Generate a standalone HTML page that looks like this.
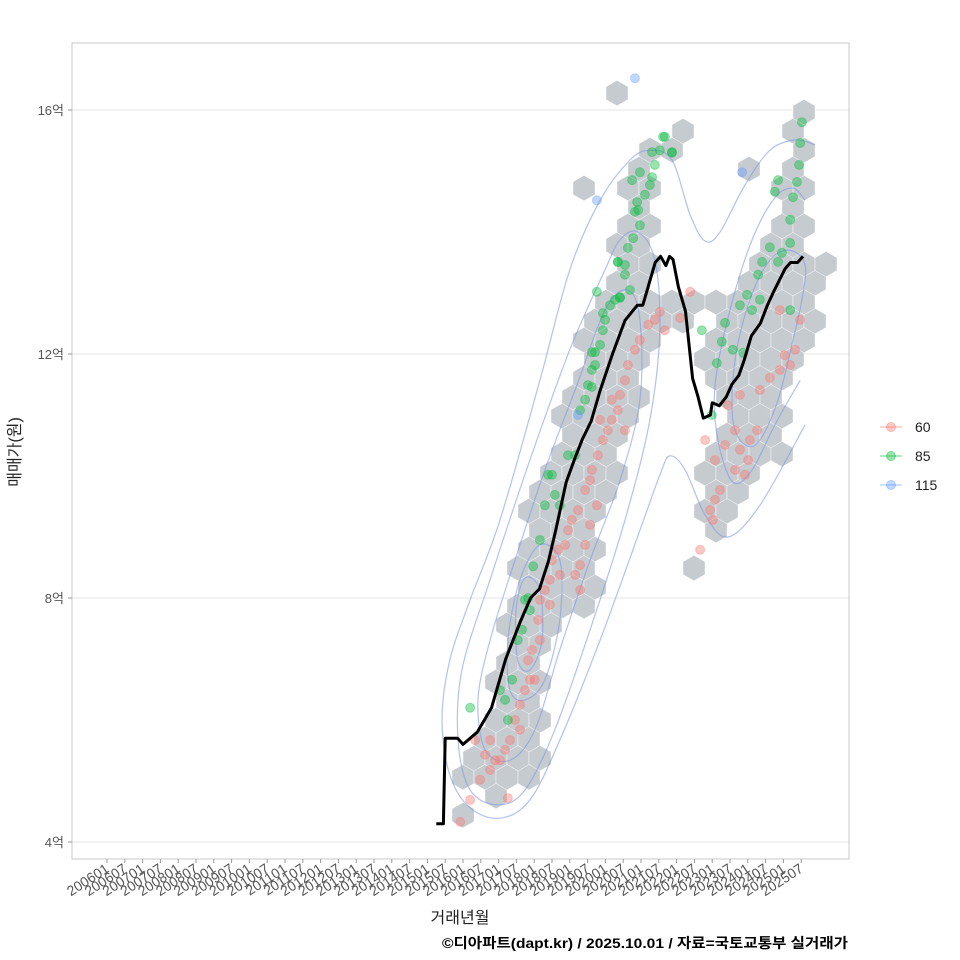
<!DOCTYPE html>
<html><head><meta charset="utf-8">
<style>
html,body{margin:0;padding:0;background:#fff;}
svg{display:block;font-family:"Liberation Sans","Noto Sans CJK KR",sans-serif;}
</style></head>
<body>
<svg id="chart" width="960" height="960" viewBox="0 0 960 960" xmlns="http://www.w3.org/2000/svg">
  <rect x="0" y="0" width="960" height="960" fill="#fff"/>
  <g id="grid"></g>
  <g id="hexes"></g>
  <g id="contours"></g>
  <g id="points"></g>
  <g id="line"></g>
  <rect x="72" y="43" width="777" height="816" fill="none" stroke="#c8c8c8" stroke-width="1"/>
  <g id="yaxis"></g>
  <g id="xaxis"></g>
  <text x="20" y="452" transform="rotate(-90 20 452)" text-anchor="middle" font-size="16" fill="#222">매매가(원)</text>
  <text x="460" y="923" text-anchor="middle" font-size="16" fill="#222">거래년월</text>
  <text x="848" y="948" text-anchor="end" font-size="14" font-weight="bold" fill="#000" textLength="406" lengthAdjust="spacingAndGlyphs">©디아파트(dapt.kr) / 2025.10.01 / 자료=국토교통부 실거래가</text>
  <g id="legend"></g>
</svg>
<script>
// ---- data ----
const yTicks = [4, 8, 12, 16];
const yTickLabels = ["4억", "8억", "12억", "16억"];
const xTickStartYear = 2006;
const xTickCount = 40; // every 6 months 200601..202507
const legendLabels = ["60", "85", "115"];
const legendColors = ["#F8766D", "#00BA38", "#619CFF"];

const lineYears = [2015.25,2015.45,2015.5,2015.85,2016.0,2016.2,2016.4,2016.6,2016.8,2017.0,2017.2,2017.6,2017.9,2018.15,2018.4,2018.6,2018.9,2019.15,2019.35,2019.6,2019.85,2020.2,2020.55,2020.9,2021.05,2021.2,2021.4,2021.55,2021.7,2021.8,2021.9,2022.05,2022.25,2022.45,2022.6,2022.75,2022.95,2023.0,2023.2,2023.4,2023.55,2023.75,2023.9,2024.1,2024.35,2024.55,2024.75,2025.05,2025.2,2025.4,2025.55];
const linePrices = [4.3,4.3,5.7,5.7,5.6,5.7,5.8,6.0,6.2,6.6,7.0,7.6,8.0,8.15,8.6,9.1,9.9,10.3,10.6,10.9,11.4,12.0,12.55,12.8,12.8,13.1,13.5,13.6,13.45,13.6,13.55,13.1,12.7,11.6,11.3,10.95,11.0,11.2,11.15,11.3,11.5,11.65,11.9,12.3,12.5,12.8,13.05,13.4,13.5,13.5,13.6];

const greenYears = [2016.2,2017.04,2017.18,2017.26,2017.38,2017.54,2017.66,2017.74,2017.83,2017.88,2017.97,2018.16,2018.30,2018.39,2018.5,2018.58,2018.72,2018.95,2019.15,2019.29,2019.43,2019.51,2019.62,2019.71,2019.85,2019.93,2019.99,2020.13,2020.27,2020.41,2020.35,2020.55,2020.69,2020.63,2020.78,2020.97,2020.92,2021.11,2021.25,2021.39,2021.53,2021.67,2021.87,2020.75,2020.97,2020.83,2020.55,2022.99,2022.71,2023.36,2023.27,2023.87,2023.98,2024.12,2024.34,2024.29,2024.40,2024.62,2024.85,2024.96,2025.19,2025.19,2025.27,2024.76,2024.85,2025.38,2025.44,2025.47,2025.52,2023.78,2025.19,2023.58,2023.13,2019.76,2020.41,2019.93,2020.35,2019.62,2019.71,2019.62,2020.89,2021.31,2021.62,2021.87,2021.31];
const greenPrices = [6.2,6.49,6.33,6.0,6.66,7.31,7.48,7.97,8.0,7.8,8.52,8.95,9.52,10.02,10.02,9.69,9.52,10.34,10.34,11.08,11.25,11.49,11.74,12.03,12.15,12.39,12.56,12.8,12.89,12.92,13.51,13.46,13.05,13.74,13.9,14.11,14.36,14.61,14.77,15.1,15.34,15.56,15.31,14.85,14.98,14.33,13.3,11.0,12.39,12.51,12.2,12.02,12.97,12.72,12.89,13.3,13.51,13.75,13.51,13.66,13.82,14.2,14.57,14.66,14.85,14.82,15.1,15.46,15.8,12.8,12.72,12.07,11.85,13.02,12.93,12.67,13.51,12.03,11.82,11.46,14.49,14.9,15.56,15.3,15.31];

const redYears = [2015.92,2016.2,2016.48,2016.76,2016.9,2017.18,2017.26,2016.62,2016.34,2017.32,2017.46,2017.6,2017.74,2017.83,2017.94,2018.02,2018.11,2018.16,2018.3,2018.44,2018.5,2018.67,2018.87,2018.95,2019.06,2019.23,2019.29,2019.15,2019.43,2019.57,2019.62,2019.79,2019.93,2020.07,2020.18,2020.35,2020.41,2020.55,2020.63,2020.83,2020.97,2021.2,2021.39,2021.67,2021.53,2022.38,2022.1,2019.76,2019.57,2019.43,2019.29,2018.72,2018.44,2018.16,2017.88,2017.6,2016.76,2017.04,2020.18,2019.85,2020.55,2022.8,2023.08,2023.36,2023.64,2023.78,2024.01,2024.06,2024.26,2023.92,2023.64,2023.22,2023.08,2022.94,2023.02,2022.66,2024.34,2024.62,2024.9,2025.04,2025.19,2025.33,2025.47,2024.9,2023.78,2023.44];
const redPrices = [4.33,4.69,5.02,5.18,5.34,5.51,4.72,5.43,5.67,5.67,6.0,6.25,6.49,6.98,7.15,6.66,7.64,7.97,8.13,8.3,8.62,8.79,8.87,9.11,9.28,9.44,8.13,8.38,9.77,9.93,10.1,10.34,10.59,10.75,10.92,11.08,11.33,11.57,11.82,12.07,12.23,12.48,12.56,12.39,12.69,13.02,12.59,9.52,9.2,8.87,8.54,8.38,7.89,7.31,6.66,5.84,5.67,5.34,11.25,10.92,10.75,10.59,10.26,10.51,10.75,10.43,10.26,10.59,10.75,10.02,10.1,9.77,9.61,9.44,9.28,8.79,11.41,11.61,11.74,11.98,11.82,12.07,12.56,12.72,11.33,11.16];

const blueYears = [2020.83,2019.76,2023.84,2019.23];
const bluePrices = [16.52,14.52,14.98,11.0];

// hexbin rows: row index, covered year range
const hexSegRow = [0,1,2,3,4,5,6,7,8,9,10,11,12,13,14,15,16,17,18,19,20,21,22,23,24,25,26,27,28,29,30,31,32,33,34,35,36,38,
  13,15,16,17,18,19,20,21,22,23,24,25,26,27,28,29,30,31,32,33,34,35,36,37,34,33];
const hexSegStart = [2016.0,2016.9,2016.0,2016.3,2016.6,2016.9,2017.0,2016.9,2017.2,2017.3,2017.3,2017.6,2017.6,2017.7,2017.7,2017.9,2018.1,2018.3,2018.5,2018.8,2019.0,2019.0,2019.1,2019.2,2019.4,2019.5,2019.8,2020.1,2020.1,2020.4,2020.5,2020.6,2020.8,2020.9,2020.8,2021.3,2021.9,2020.63,
  2022.57,2022.9,2022.9,2023.0,2022.9,2022.9,2023.4,2023.6,2023.4,2023.0,2023.0,2023.0,2023.2,2023.4,2024.0,2024.2,2024.5,2024.8,2025.0,2024.8,2025.0,2025.3,2025.47,2025.49,2023.84,2019.62];
const hexSegEnd = [2016.0,2017.1,2017.6,2017.9,2018.0,2018.0,2018.0,2017.9,2017.9,2018.0,2018.3,2019.6,2019.6,2019.6,2019.7,2019.6,2019.6,2019.9,2020.1,2020.1,2020.4,2020.7,2020.7,2020.7,2020.8,2021.0,2022.4,2022.4,2020.7,2021.3,2021.0,2021.1,2021.0,2021.3,2021.0,2021.6,2021.9,2020.63,
  2022.57,2023.0,2023.5,2023.7,2023.8,2024.9,2024.6,2024.9,2024.9,2025.2,2025.5,2025.5,2025.6,2025.6,2025.6,2025.9,2025.5,2025.5,2025.5,2025.5,2025.5,2025.5,2025.47,2025.49,2023.84,2019.62];
const hexRowBasePrice = 4.44;
const hexRowStepPrice = 0.3115;
const hexColStepYear = 0.618;

// density contours: [year, price] pairs
const contourOuter = [[2025.89,15.43],[2025.33,15.51],[2024.62,15.34],[2023.92,14.77],[2023.22,14.0],[2022.8,13.85],[2022.38,14.28],[2021.87,15.18],[2021.25,15.34],[2020.69,15.18],[2019.85,14.52],[2019.0,13.38],[2018.16,11.57],[2017.04,9.28],[2016.2,7.97],[2015.63,6.98],[2015.41,6.0],[2015.63,5.1],[2016.2,4.56],[2017.04,4.39],[2017.88,4.69],[2018.72,5.67],[2019.85,7.31],[2020.97,9.11],[2021.53,10.02],[2021.81,10.33],[2022.24,10.1],[2022.8,9.36],[2023.44,9.0],[2024.34,9.52],[2025.61,10.84]];
const contourMain2 = [[2020.92,14.0],[2021.39,13.54],[2021.53,12.39],[2021.25,10.92],[2020.55,9.28],[2019.57,7.48],[2018.58,5.84],[2017.74,4.85],[2016.98,4.61],[2016.2,4.85],[2015.86,5.67],[2015.97,6.82],[2016.76,8.3],[2017.88,10.26],[2019.0,12.07],[2019.99,13.38],[2020.41,13.87]];
const contourRight2 = [[2025.61,14.52],[2025.27,14.72],[2024.76,14.56],[2024.12,13.87],[2023.5,12.72],[2023.08,11.49],[2023.16,10.59],[2023.58,9.9],[2024.12,10.1],[2024.76,10.84],[2025.47,11.57]];
const contourMain3 = [[2020.63,13.05],[2020.97,12.56],[2020.97,11.25],[2020.41,9.93],[2019.57,8.62],[2018.72,7.15],[2018.02,5.84],[2017.32,5.34],[2016.62,5.51],[2016.42,6.33],[2016.76,7.31],[2017.46,8.62],[2018.3,10.1],[2019.15,11.41],[2019.99,12.72]];
const contourRight3 = [[2025.61,13.46],[2025.19,13.7],[2024.62,13.54],[2024.06,12.89],[2023.64,11.9],[2023.58,10.92],[2023.92,10.51],[2024.34,10.59],[2024.85,11.25],[2025.27,12.23],[2025.52,12.89]];
const contourMain4 = [[2018.16,8.87],[2018.72,8.62],[2018.72,7.64],[2018.3,6.66],[2017.74,6.33],[2017.32,6.49],[2017.26,7.31],[2017.6,8.3]];
const contourMain5 = [[2017.74,8.33],[2018.16,8.13],[2018.22,7.31],[2017.88,6.82],[2017.54,6.98],[2017.49,7.8]];

// ---- scales ----
const X0 = 107, PX_PER_YEAR = 35.6;
const Y0 = 842, PX_PER_EOK = 61;
function xScale(yr){ return X0 + (yr - 2006) * PX_PER_YEAR; }
function yScale(p){ return Y0 - (p - 4) * PX_PER_EOK; }

const NS = "http://www.w3.org/2000/svg";
function mk(tag, attrs, parent){ const e = document.createElementNS(NS, tag); for (const k in attrs) e.setAttribute(k, attrs[k]); parent.appendChild(e); return e; }

// grid + y axis
const grid = document.getElementById('grid'), yaxis = document.getElementById('yaxis');
yTicks.forEach((v, i) => {
  const y = yScale(v);
  const gl = mk('line', {x1:72, x2:849, y1:y, y2:y, stroke:'#e6e6e6', 'stroke-width':1}, grid);
  
  
  const tk = mk('line', {x1:68, x2:72, y1:y, y2:y, stroke:'#999', 'stroke-width':1}, yaxis);
  
  
  const t = mk('text', {x:64, y:y+5, 'text-anchor':'end', 'font-size':13, fill:'#555'}, yaxis);
  t.textContent = yTickLabels[i];
  
  
});

// x axis
const xaxis = document.getElementById('xaxis');
for (let i = 0; i < xTickCount; i++) {
  const yr = xTickStartYear + i * 0.5;
  const x = xScale(yr);
  const tk = mk('line', {x1:x, x2:x, y1:859, y2:863, stroke:'#999', 'stroke-width':1}, xaxis);
  
  
  const lbl = String(Math.floor(yr)) + (i % 2 === 0 ? '01' : '07');
  const t = mk('text', {x:x+3, y:871, 'text-anchor':'end', 'font-size':14, fill:'#555', transform:'rotate(-33 '+(x+3)+' 871)'}, xaxis);
  t.textContent = lbl;
  
  
}

// hexes
const hexG = document.getElementById('hexes');
const hw = 11, hr = 12.7;
for (let s = 0; s < hexSegRow.length; s++) {
  const row = hexSegRow[s];
  const price = hexRowBasePrice + row * hexRowStepPrice;
  const off = (row % 2) ? hexColStepYear / 2 : 0;
  const kStart = Math.ceil((hexSegStart[s] - 2016.0 - off) / hexColStepYear - 0.5);
  const kEnd = Math.floor((hexSegEnd[s] - 2016.0 - off) / hexColStepYear + 0.5);
  for (let k = kStart; k <= kEnd; k++) {
    const cx = xScale(2016.0 + off + k * hexColStepYear), cy = yScale(price);
    const pts = [[0,-hr],[hw,-hr/2],[hw,hr/2],[0,hr],[-hw,hr/2],[-hw,-hr/2]].map(p => (cx+p[0]).toFixed(1)+','+(cy+p[1]).toFixed(1)).join(' ');
    const h = mk('polygon', {points:pts, fill:'#c6cbd0', stroke:'#fff', 'stroke-width':0.4}, hexG);
    
    
  }
}

// contours
const cG = document.getElementById('contours');
function drawContour(arr, closed){
  const P = arr.map(p => [xScale(p[0]), yScale(p[1])]);
  const n = P.length;
  let d = 'M' + P[0][0] + ',' + P[0][1];
  const get = i => closed ? P[(i + n) % n] : P[Math.max(0, Math.min(n - 1, i))];
  const last = closed ? n : n - 1;
  for (let i = 0; i < last; i++) {
    const p0 = get(i-1), p1 = get(i), p2 = get(i+1), p3 = get(i+2);
    const c1 = [p1[0] + (p2[0]-p0[0])/6, p1[1] + (p2[1]-p0[1])/6];
    const c2 = [p2[0] - (p3[0]-p1[0])/6, p2[1] - (p3[1]-p1[1])/6];
    d += ' C' + c1[0].toFixed(1)+','+c1[1].toFixed(1)+' '+c2[0].toFixed(1)+','+c2[1].toFixed(1)+' '+p2[0].toFixed(1)+','+p2[1].toFixed(1);
  }
  const e = mk('path', {d:d, fill:'none', stroke:'#7f98e6', 'stroke-opacity':0.6, 'stroke-width':1.2}, cG);
  
  
}
drawContour(contourOuter, false);
drawContour(contourMain2, true);
drawContour(contourRight2, false);
drawContour(contourMain3, true);
drawContour(contourRight3, true);
drawContour(contourMain4, true);
drawContour(contourMain5, true);

// points
const pG = document.getElementById('points');
function drawPts(ys, ps, color, name){
  for (let i = 0; i < ys.length; i++) {
    const c = mk('circle', {cx:xScale(ys[i]), cy:yScale(ps[i]), r:4.5, fill:color, 'fill-opacity':0.4, stroke:color, 'stroke-opacity':0.35}, pG);
    
    
  }
}
drawPts(redYears, redPrices, legendColors[0], 'point-60');
drawPts(greenYears, greenPrices, legendColors[1], 'point-85');
drawPts(blueYears, bluePrices, legendColors[2], 'point-115');

// line
const lG = document.getElementById('line');
const ld = lineYears.map((y, i) => (i ? 'L' : 'M') + xScale(y).toFixed(1) + ',' + yScale(linePrices[i]).toFixed(1)).join(' ');
const lp = mk('path', {d:ld, fill:'none', stroke:'#000', 'stroke-width':3, 'stroke-linejoin':'round'}, lG);



// legend
const leg = document.getElementById('legend');
legendLabels.forEach((lab, i) => {
  const y = 427 + i * 29;
  const ln = mk('line', {x1:880, x2:902, y1:y, y2:y, stroke:legendColors[i], 'stroke-opacity':0.5, 'stroke-width':1.2}, leg);
  
  
  const c = mk('circle', {cx:891, cy:y, r:4.5, fill:legendColors[i], 'fill-opacity':0.4, stroke:legendColors[i], 'stroke-opacity':0.4}, leg);
  
  
  const t = mk('text', {x:915, y:y+5, 'font-size':14, fill:'#222'}, leg);
  t.textContent = lab;
  
  
});
</script>
</body></html>
